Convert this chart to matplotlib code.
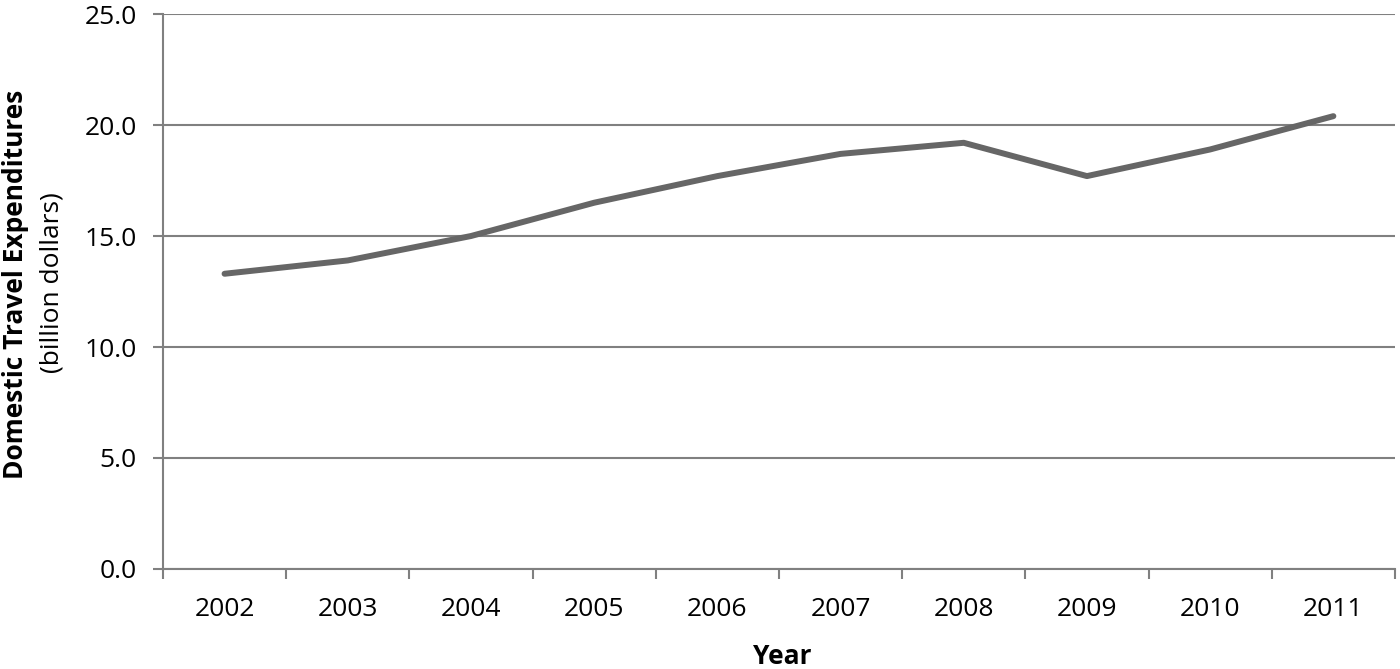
import matplotlib
matplotlib.use("Agg")
import matplotlib.pyplot as plt
import numpy as np

years = ["2002", "2003", "2004", "2005", "2006", "2007", "2008", "2009", "2010", "2011"]
spending = [13.3, 13.9, 15.0, 16.5, 17.7, 18.7, 19.2, 17.7, 18.9, 20.4]

plt.rcParams['font.family'] = ['Open Sans', 'DejaVu Sans']
grid_color = "#808080"
fs = 19

fig = plt.figure(figsize=(14, 6.69), dpi=100)
ax = fig.add_axes([0.1164, 0.1495, 0.88, 0.8295])

x = np.arange(len(years))
ax.plot(x, spending, color="#666666", lw=4.3, solid_capstyle="round", zorder=3)

ax.set_xlim(-0.5, len(years) - 0.5)
ax.set_ylim(0, 25)
ax.set_yticks(np.arange(0, 25.1, 5))
ax.set_yticklabels([f"{v:.1f}" for v in np.arange(0, 25.1, 5)])
ax.yaxis.grid(True, color=grid_color, lw=1.5)
ax.set_axisbelow(True)

# category labels centred, ticks on the boundaries
ax.set_xticks(x)
ax.set_xticklabels(years)
ax.set_xticks(np.arange(-0.5, len(years)), minor=True)
ax.tick_params(axis="x", which="major", length=0, pad=20, labelsize=fs)
ax.tick_params(axis="x", which="minor", length=7, width=1.5, color=grid_color, direction="out")
ax.tick_params(axis="y", length=7, width=1.5, color=grid_color, pad=12, labelsize=fs)

for side in ["top", "right"]:
    ax.spines[side].set_visible(False)
for side in ["left", "bottom"]:
    ax.spines[side].set_color(grid_color)
    ax.spines[side].set_linewidth(1.5)

fig.text(0.011, 0.575, "Domestic Travel Expenditures", rotation=90, fontsize=fs,
         fontweight="bold", ha="center", va="center")
fig.text(0.037, 0.578, "(billion dollars)", rotation=90, fontsize=fs,
         ha="center", va="center")
fig.text(0.559, 0.018, "Year", fontsize=fs, fontweight="bold", ha="center", va="center")

fig.savefig("out.png", dpi=100)
